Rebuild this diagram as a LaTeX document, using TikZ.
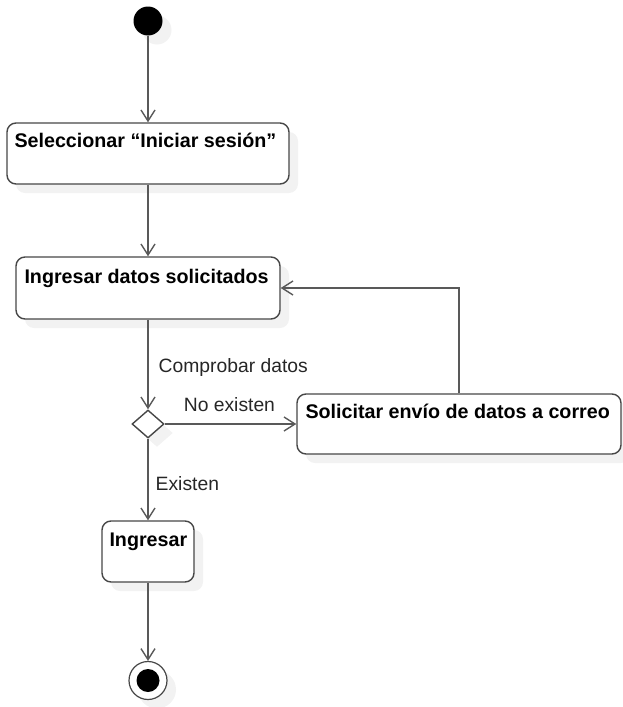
\documentclass[tikz,border=0pt]{standalone}
\usepackage{fontspec}
\setmainfont{Liberation Sans}
\usetikzlibrary{arrows.meta,shapes.geometric,shadows}
\begin{document}
\begin{tikzpicture}[x=1pt, y=-1pt, every node/.style={font=\fontsize{19.3}{23}\selectfont},
  soft/.style={drop shadow={shadow xshift=9pt,shadow yshift=-9pt,fill=black!5,opacity=1}},
  act/.style={draw=black!72,line width=1.4pt,fill=white,rounded corners=9pt,minimum height=61pt,inner sep=0pt,soft},
  txt/.style={anchor=base west,inner sep=0pt,font=\fontsize{19.7}{23}\selectfont\bfseries},
  flow/.style={draw=black!65,line width=1.4pt,-{Straight Barb[length=11pt,width=14pt,line width=1.4pt]}},
  lbl/.style={anchor=base west,inner sep=0pt,text=black!85}]
\useasboundingbox (0,0) rectangle (623,707);
\node[circle,fill=black,minimum size=29pt,inner sep=0pt,soft] (start) at (148,21) {};
\node[act,minimum width=282pt,label={[txt,xshift=8pt,yshift=-25pt]north west:Seleccionar “Iniciar sesión”}] (sel) at (148,153.5) {};
\node[act,minimum width=264pt,minimum height=62pt,label={[txt,xshift=9pt,yshift=-27pt]north west:Ingresar datos solicitados}] (ing) at (148,288) {};
\node[diamond,draw=black!72,line width=1.4pt,fill=white,minimum width=32pt,minimum height=28pt,inner sep=0pt,soft] (chk) at (148,424) {};
\node[act,minimum width=324pt,minimum height=60pt,label={[txt,xshift=9pt,yshift=-25pt]north west:Solicitar envío de datos a correo}] (sol) at (459,424) {};
\node[act,minimum width=92pt,label={[txt,xshift=8pt,yshift=-26pt]north west:Ingresar}] (ent) at (148,551.5) {};
\node[circle,draw=black!72,line width=1.2pt,fill=white,minimum size=38pt,inner sep=0pt,soft] (fin) at (148,680.5) {};
\node[circle,fill=black,minimum size=23pt,inner sep=0pt] (fin-dot) at (fin) {};
\draw[flow] (start) -- (sel);
\draw[flow] (sel) -- (ing);
\draw[flow] (ing) -- (chk) node[lbl,pos=0.59,xshift=10pt] {Comprobar datos};
\draw[flow] (chk) -- (sol) node[lbl,pos=0.14,yshift=13pt] {No existen};
\draw[flow] (chk) -- (ent) node[lbl,pos=0.64,xshift=7pt] {Existen};
\draw[flow] (ent) -- (fin);
\draw[flow] (sol.north) |- (ing.east);
\end{tikzpicture}
\end{document}
